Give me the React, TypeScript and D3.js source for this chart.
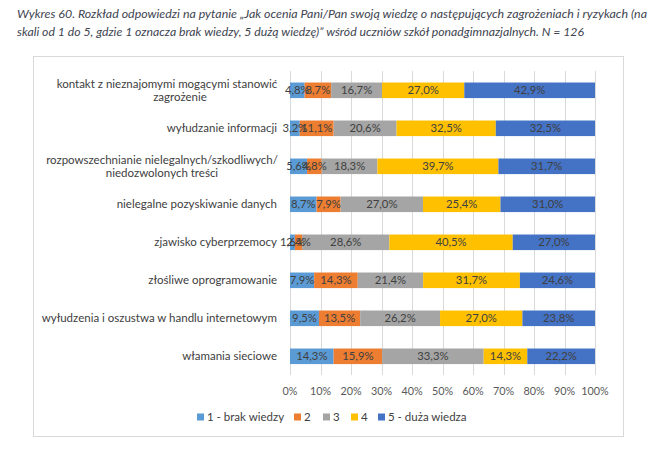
import React from "react";
import * as d3 from "d3";

const titleLines = [
  "Wykres 60. Rozkład odpowiedzi na pytanie „Jak ocenia Pani/Pan swoją wiedzę o  następujących zagrożeniach i  ryzykach (na",
  "skali od 1 do 5, gdzie 1 oznacza brak wiedzy, 5 dużą wiedzę)” wśród uczniów szkół ponadgimnazjalnych. N = 126",
];

const categories = [
  "kontakt z nieznajomymi mogącymi stanowić\nzagrożenie",
  "wyłudzanie informacji",
  "rozpowszechnianie nielegalnych/szkodliwych/\nniedozwolonych treści",
  "nielegalne pozyskiwanie danych",
  "zjawisko cyberprzemocy",
  "złośliwe oprogramowanie",
  "wyłudzenia i oszustwa w handlu internetowym",
  "włamania sieciowe",
];

const seriesNames = ["1 - brak wiedzy", "2", "3", "4", "5 - duża wiedza"];
const seriesColors = ["#5B9BD5", "#ED7D31", "#A5A5A5", "#FFC000", "#4472C4"];

const s1 = [4.8, 3.2, 5.6, 8.7, 1.6, 7.9, 9.5, 14.3];
const s2 = [8.7, 11.1, 4.8, 7.9, 2.4, 14.3, 13.5, 15.9];
const s3 = [16.7, 20.6, 18.3, 27.0, 28.6, 21.4, 26.2, 33.3];
const s4 = [27.0, 32.5, 39.7, 25.4, 40.5, 31.7, 27.0, 14.3];
const s5 = [42.9, 32.5, 31.7, 31.0, 27.0, 24.6, 23.8, 22.2];

const xTicks = [0, 0.1, 0.2, 0.3, 0.4, 0.5, 0.6, 0.7, 0.8, 0.9, 1];

const FONT = "Lato, 'Liberation Sans', sans-serif";

export default function App() {
  const seriesValues = [s1, s2, s3, s4, s5];
  const keys = seriesNames.map((_, i) => "k" + i);
  const rows = categories.map((c, ci) => {
    const r: any = { cat: c };
    keys.forEach((k, si) => (r[k] = seriesValues[si][ci]));
    return r;
  });
  const stacked = d3.stack<any>().keys(keys).offset(d3.stackOffsetExpand)(rows);

  const x = d3.scaleLinear().domain([0, 1]).range([290, 595]);
  const y = d3
    .scaleBand<string>()
    .domain(categories)
    .range([71.3, 375.3])
    .paddingInner(0.59)
    .paddingOuter(0.295);

  const fmtLabel = (v: number) => v.toFixed(1).replace(".", ",") + "%";
  const fmtTick = (v: number) => Math.round(v * 100) + "%";

  const legendX = [197, 294, 323, 351, 378];

  const labelCenters: Record<number, number[]> = { 0: [167, 180], 2: [162, 162] };

  return (
    <svg
      width={660}
      height={454}
      style={{ position: "absolute", left: 0, top: 0, background: "#fff" }}
      fontFamily={FONT}
    >
      <rect x={0} y={0} width={660} height={454} fill="#fff" />
      {titleLines.map((t, i) => (
        <text
          key={i}
          x={17}
          y={18 + i * 18}
          fontSize={11.5}
          fontStyle="italic"
          fill="#3e4450"
          textLength={i === 0 ? 630 : 567}
          lengthAdjust="spacingAndGlyphs"
        >
          {t}
        </text>
      ))}
      <rect x={33.5} y={56.5} width={590} height={380} fill="none" stroke="#d9d9d9" strokeWidth={1} />

      {xTicks.map((t) => (
        <line
          key={"g" + t}
          x1={Math.round(x(t)) + 0.5}
          x2={Math.round(x(t)) + 0.5}
          y1={71}
          y2={375}
          stroke="#d9d9d9"
          strokeWidth={1}
        />
      ))}

      {stacked.map((layer, si) => (
        <g key={layer.key} fill={seriesColors[si]}>
          {layer.map((d, ci) => (
            <rect
              key={ci}
              x={x(d[0])}
              y={y(categories[ci])!}
              width={x(d[1]) - x(d[0])}
              height={y.bandwidth()}
            />
          ))}
        </g>
      ))}

      {stacked.map((layer, si) => (
        <g key={"l" + layer.key}>
          {layer.map((d, ci) => (
            <text
              key={ci}
              x={(x(d[0]) + x(d[1])) / 2}
              y={y(categories[ci])! + y.bandwidth() / 2}
              dy="0.35em"
              textAnchor="middle"
              fontSize={11.3}
              fill="#404040"
            >
              {fmtLabel(seriesValues[si][ci])}
            </text>
          ))}
        </g>
      ))}

      {categories.map((c, ci) => {
        const lines = c.split("\n");
        const cy = y(c)! + y.bandwidth() / 2;
        if (lines.length === 1) {
          return (
            <text key={c} x={277} y={cy} dy="0.35em" textAnchor="end" fontSize={11.5} fill="#404040">
              {c}
            </text>
          );
        }
        const centers = labelCenters[ci];
        return (
          <g key={c}>
            {lines.map((l, li) => (
              <text
                key={li}
                x={centers[li]}
                y={cy + (li === 0 ? -6.5 : 6.5)}
                dy="0.35em"
                textAnchor="middle"
                fontSize={11.5}
                fill="#404040"
              >
                {l}
              </text>
            ))}
          </g>
        );
      })}

      {xTicks.map((t) => (
        <text
          key={"t" + t}
          x={x(t)}
          y={391}
          dy="0.35em"
          textAnchor="middle"
          fontSize={10.8}
          fill="#595959"
        >
          {fmtTick(t)}
        </text>
      ))}

      {seriesNames.map((n, i) => (
        <g key={n} transform={`translate(${legendX[i]},417)`}>
          <rect x={0} y={-3.5} width={7} height={7} fill={seriesColors[i]} />
          <text x={10} y={0} dy="0.35em" fontSize={11.5} fill="#404040">
            {n}
          </text>
        </g>
      ))}
    </svg>
  );
}
